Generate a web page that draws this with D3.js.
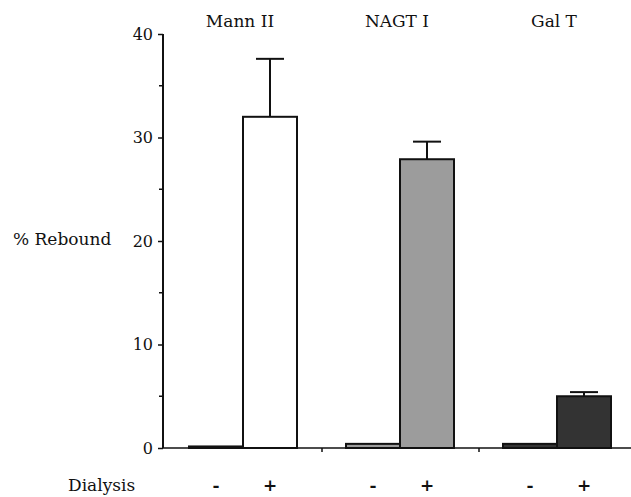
<!DOCTYPE html>
<html>
<head>
<meta charset="utf-8">
<script src="https://cdn.jsdelivr.net/npm/d3@7"></script>
<style>
  body { margin: 0; background: #fff; }
  text { font-family: "DejaVu Serif", "Liberation Serif", serif; fill: #111; }
</style>
</head>
<body>
<div id="chart"></div>
<script>
const groups = ['Mann II', 'NAGT I', 'Gal T']
const dialysis = ['-', '+']
const minusValues = [0.15, 0.4, 0.4]
const plusValues = [32.0, 27.9, 5.0]
const plusErrors = [5.6, 1.7, 0.4]
const majorTicks = [0, 10, 20, 30, 40]
const minorTicks = [5, 15, 25, 35]
const fills = ['#ffffff', '#9c9c9c', '#333333']

const width = 631
const height = 497

const svg = d3.select('#chart').append('svg')
  .attr('width', width)
  .attr('height', height)

const y = d3.scaleLinear().domain([0, 40]).range([448, 34])

const x = d3.scaleBand().domain(groups).range([165, 636])
const xInner = d3.scaleBand().domain(dialysis).range([24, 132])

const rows = groups.map((g, i) => ({
  group: g,
  fill: fills[i],
  bars: [
    { key: '-', value: minusValues[i], err: 0 },
    { key: '+', value: plusValues[i], err: plusErrors[i] }
  ]
}))

// y axis
const yAxis = d3.axisLeft(y)
  .tickValues(majorTicks)
  .tickSize(5)
  .tickPadding(5)
  .tickFormat(d3.format('d'))

const gy = svg.append('g')
  .attr('transform', 'translate(163,0)')
  .call(yAxis)
gy.select('.domain').attr('stroke', '#111').attr('stroke-width', 2).attr('d', `M0,${y(40)}V${y(0)}`)
gy.selectAll('.tick line').attr('stroke', '#111').attr('stroke-width', 1.5)
gy.selectAll('.tick text')
  .style('font-family', '"DejaVu Serif", serif')
  .style('font-size', '16px')
  .attr('fill', '#111')

gy.selectAll('.minor')
  .data(minorTicks).enter()
  .append('line')
  .attr('class', 'minor')
  .attr('x1', -4).attr('x2', 0)
  .attr('y1', d => y(d)).attr('y2', d => y(d))
  .attr('stroke', '#111').attr('stroke-width', 1.5)

// x baseline + group separators
svg.append('line')
  .attr('x1', 163).attr('x2', width)
  .attr('y1', y(0)).attr('y2', y(0))
  .attr('stroke', '#111').attr('stroke-width', 1.5)

svg.selectAll('.sep')
  .data(groups.slice(1)).enter()
  .append('line')
  .attr('x1', d => x(d)).attr('x2', d => x(d))
  .attr('y1', y(0)).attr('y2', y(0) + 4)
  .attr('stroke', '#111').attr('stroke-width', 1.5)

// bars
const gGroup = svg.selectAll('.grp')
  .data(rows).enter()
  .append('g')
  .attr('transform', d => `translate(${x(d.group)},0)`)

gGroup.selectAll('rect')
  .data(d => d.bars.map(b => ({ ...b, fill: d.fill }))).enter()
  .append('rect')
  .attr('x', d => xInner(d.key))
  .attr('width', xInner.bandwidth())
  .attr('y', d => y(d.value))
  .attr('height', d => y(0) - y(d.value))
  .attr('fill', d => d.fill)
  .attr('stroke', '#111')
  .attr('stroke-width', 2)

// error bars
const errs = gGroup.selectAll('.err')
  .data(d => d.bars.filter(b => b.err > 0)).enter()
  .append('g')
errs.append('line')
  .attr('x1', d => xInner(d.key) + xInner.bandwidth() / 2)
  .attr('x2', d => xInner(d.key) + xInner.bandwidth() / 2)
  .attr('y1', d => y(d.value))
  .attr('y2', d => y(d.value + d.err))
  .attr('stroke', '#111').attr('stroke-width', 2)
errs.append('line')
  .attr('x1', d => xInner(d.key) + xInner.bandwidth() / 2 - 14)
  .attr('x2', d => xInner(d.key) + xInner.bandwidth() / 2 + 14)
  .attr('y1', d => y(d.value + d.err))
  .attr('y2', d => y(d.value + d.err))
  .attr('stroke', '#111').attr('stroke-width', 2)

// group titles
svg.selectAll('.title')
  .data(groups).enter()
  .append('text')
  .attr('x', d => x(d) + xInner('-') + xInner.bandwidth() - 3)
  .attr('y', 27)
  .attr('text-anchor', 'middle')
  .style('font-size', '17px')
  .text(d => d)

// dialysis signs
groups.forEach(g => {
  svg.selectAll(null)
    .data(dialysis).enter()
    .append('text')
    .attr('x', d => x(g) + xInner(d) + xInner.bandwidth() / 2)
    .attr('y', 491)
    .attr('text-anchor', 'middle')
    .style('font-size', '17px')
    .style('font-weight', 'bold')
    .text(d => d)
})

svg.append('text')
  .attr('x', 68).attr('y', 491)
  .style('font-size', '17px')
  .text('Dialysis')

svg.append('text')
  .attr('x', 13).attr('y', 245)
  .style('font-size', '17px')
  .text('% Rebound')
</script>
</body>
</html>
